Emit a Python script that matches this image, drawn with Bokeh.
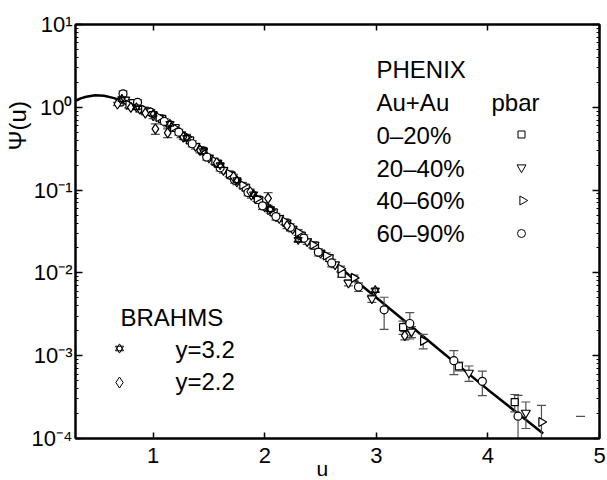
import numpy as np
from bokeh.plotting import figure
from bokeh.models import (Range1d, LogAxis, LinearAxis, FixedTicker, Label, Title,
                          CustomJSTickFormatter)
from bokeh.embed import file_html
from bokeh.resources import INLINE

FONT = "Liberation Sans"

# ---------------- data ----------------
# fitted scaling curve
curve_u = [0.305, 0.35, 0.40, 0.48, 0.56, 0.65, 0.75, 0.86, 1.00, 1.10, 1.20, 1.30, 1.40,
           1.50, 1.60, 1.75, 2.00, 2.25, 2.50, 2.83, 3.20, 3.575, 4.00, 4.495]
curve_psi = [1.20, 1.28, 1.34, 1.40, 1.38, 1.29, 1.15, 1.00, 0.813, 0.684, 0.543, 0.422, 0.324,
             0.251, 0.193, 0.129, 0.0646, 0.0343, 0.0182, 0.00776, 0.00302, 0.00115, 3.89e-4, 1.15e-4]

# PHENIX Au+Au pbar 0-20% (squares)
sq_u = [0.70, 0.82, 0.95, 1.08, 1.20, 1.33, 1.45, 1.58, 1.70, 1.83, 1.95, 2.08, 2.20, 2.33,
        2.45, 2.58, 2.69, 3.24, 3.74, 4.24]
sq_psi = [1.148, 1.122, 0.891, 0.724, 0.562, 0.398, 0.295, 0.209, 0.151, 0.107, 0.0759, 0.0537,
          0.0398, 0.0282, 0.0214, 0.0151, 0.00977, 0.00221, 7.46e-4, 2.75e-4]
sq_err = [0.09, 0.09, 0.07, 0.06, 0.045, 0.032, 0.024, 0.017, 0.012, 0.0086, 0.0061, 0.0043,
          0.0032, 0.0023, 0.0018, 0.0013, 0.0009, 0.0004, 0.9e-4, 0.65e-4]

# 20-40% (inverted triangles)
dt_u = [0.75, 0.88, 1.00, 1.13, 1.25, 1.38, 1.50, 1.63, 1.75, 1.88, 2.00, 2.13, 2.25, 2.38,
        2.50, 2.63, 2.75, 2.96, 3.315, 3.83, 4.34]
dt_psi = [1.230, 0.955, 0.794, 0.631, 0.468, 0.339, 0.245, 0.174, 0.126, 0.0871, 0.0631, 0.0457,
          0.0339, 0.0240, 0.0174, 0.0126, 0.00759, 0.00490, 0.00195, 6.21e-4, 2.04e-4]
dt_err = [0.10, 0.08, 0.065, 0.05, 0.037, 0.027, 0.02, 0.014, 0.01, 0.007, 0.005, 0.0037,
          0.0027, 0.0019, 0.0014, 0.001, 0.0006, 0.0005, 0.0003, 1.3e-4, 0.72e-4]

# 40-60% (right-pointing triangles)
rt_u = [0.78, 0.92, 1.05, 1.18, 1.30, 1.43, 1.55, 1.68, 1.80, 1.93, 2.05, 2.18, 2.30, 2.43,
        2.55, 2.68, 2.80, 3.42, 4.48]
rt_psi = [1.072, 0.933, 0.759, 0.575, 0.437, 0.309, 0.224, 0.158, 0.115, 0.0794, 0.0575, 0.0417,
          0.0309, 0.0219, 0.0162, 0.0112, 0.00871, 0.00151, 1.585e-4]
rt_err = [0.09, 0.075, 0.06, 0.045, 0.035, 0.025, 0.018, 0.013, 0.009, 0.0065, 0.0047, 0.0034,
          0.0025, 0.0018, 0.0013, 0.0009, 0.0007, 0.0003, 0.93e-4]

# 60-90% (circles)
ci_u = [0.73, 0.86, 0.98, 1.10, 1.23, 1.35, 1.48, 1.60, 1.73, 1.85, 1.98, 2.10, 2.23, 2.35,
        2.48, 2.60, 2.84, 3.07, 3.30, 3.695, 3.95, 4.27]
ci_psi = [1.455, 1.148, 0.871, 0.676, 0.501, 0.363, 0.251, 0.186, 0.132, 0.0933, 0.0646, 0.0479,
          0.0355, 0.0263, 0.0178, 0.0132, 0.00676, 0.00358, 0.00245, 8.71e-4, 4.90e-4, 1.86e-4]
ci_err = [0.12, 0.09, 0.07, 0.055, 0.04, 0.03, 0.021, 0.016, 0.011, 0.008, 0.006, 0.0045,
          0.0035, 0.0026, 0.0018, 0.0014, 0.0008, 0.0015, 0.00086, 0.00028, 0.00016, 0.000145]

# BRAHMS y=3.2 (six-pointed stars)
st_u = [0.72, 0.85, 1.00, 1.15, 1.30, 1.45, 1.60, 1.75, 1.90, 2.05, 2.30, 2.99]
st_psi = [1.259, 1.000, 0.832, 0.631, 0.427, 0.295, 0.200, 0.132, 0.0891, 0.0589, 0.0251, 0.00617]
st_err = [0.06, 0.05, 0.04, 0.03, 0.02, 0.015, 0.01, 0.007, 0.005, 0.003, 0.0012, 0.0003]

# BRAHMS y=2.2 (diamonds)
di_u = [0.68, 0.80, 0.93, 1.02, 1.13, 1.27, 1.42, 1.57, 1.72, 1.87, 2.03, 2.20, 3.255]
di_psi = [1.096, 1.000, 0.851, 0.550, 0.490, 0.437, 0.302, 0.214, 0.145, 0.0955, 0.0794, 0.0372,
          0.00175]
di_err = [0.05, 0.05, 0.04, 0.08, 0.06, 0.03, 0.02, 0.015, 0.01, 0.007, 0.014, 0.003, 0.0002]

# lone error-bar cap at the right edge
cap_u = [4.83]
cap_psi = [1.85e-4]

x_ticks = [1, 2, 3, 4, 5]
y_ticks = [1e-4, 1e-3, 1e-2, 1e-1, 1e0, 1e1]
y_tick_labels = ["10\u207b\u2074", "10\u207b\u00b3", "10\u207b\u00b2", "10\u207b\u00b9",
                 "10\u2070", "10\u00b9"]

phenix_title = "PHENIX"
phenix_sub = ["Au+Au", "pbar"]
phenix_labels = ["0\u201320%", "20\u201340%", "40\u201360%", "60\u201390%"]
brahms_title = "BRAHMS"
brahms_labels = ["y=3.2", "y=2.2"]
x_title = "u"
y_title = "\u03a8(u)"

# ---------------- layout helpers ----------------
X0, X1 = 0.304, 5.0
Y0, Y1 = 1e-4, 1e1
FL, FR, FT, FB = 75, 599, 24, 438


def ux(px):
    return X0 + (px - FL) * (X1 - X0) / (FR - FL)


def uy(py):
    return 10 ** (np.log10(Y1) - (py - FT) * (np.log10(Y1) - np.log10(Y0)) / (FB - FT))


p = figure(width=607, height=480, x_range=Range1d(X0, X1), y_range=Range1d(Y0, Y1),
           y_axis_type="log", output_backend="svg", toolbar_location=None,
           min_border_left=FL, min_border_right=607 - FR, min_border_top=FT,
           min_border_bottom=480 - FB)
p.xgrid.visible = False
p.ygrid.visible = False
p.outline_line_color = "black"
p.outline_line_width = 2
p.background_fill_color = "white"
p.border_fill_color = "white"

blank = CustomJSTickFormatter(code="return ''")
y_minor = [m * t for t in y_ticks[:-1] for m in range(2, 10)]

xt = FixedTicker(ticks=x_ticks, minor_ticks=[])
yt = FixedTicker(ticks=y_ticks, minor_ticks=y_minor)

ax = p.xaxis[0]
ax.ticker = xt
ax.major_label_text_font = FONT
ax.major_label_text_font_size = "22px"
ax.major_label_text_color = "black"
ax.major_label_standoff = 9
ax.major_tick_in = 6
ax.major_tick_out = 0
ax.minor_tick_in = 0
ax.minor_tick_out = 0
ax.axis_line_width = 2
ax.major_tick_line_width = 1.5

ay = p.yaxis[0]
ay.ticker = yt
ay.major_label_overrides = {t: s for t, s in zip(y_ticks, y_tick_labels)}
ay.major_label_text_font = FONT
ay.major_label_text_font_size = "22px"
ay.major_label_text_color = "black"
ay.major_label_standoff = 3
ay.major_tick_in = 7
ay.major_tick_out = 0
ay.minor_tick_in = 3
ay.minor_tick_out = 0
ay.axis_line_width = 2
ay.major_tick_line_width = 1.5

top = LinearAxis(ticker=xt, formatter=blank, major_tick_in=6, major_tick_out=0,
                 minor_tick_in=0, minor_tick_out=0, axis_line_width=2, major_tick_line_width=1.5)
p.add_layout(top, "above")
right = LogAxis(ticker=yt, formatter=blank, major_tick_in=7, major_tick_out=0,
                minor_tick_in=3, minor_tick_out=0, axis_line_width=2, major_tick_line_width=1.5)
p.add_layout(right, "right")

# axis titles as panel titles (outside the frame)
p.add_layout(Title(text=y_title, align="left", offset=288, standoff=-4, text_font=FONT,
                   text_font_size="24px", text_font_style="normal", text_color="black"), "left")
p.add_layout(Title(text=x_title, align="left", offset=241, standoff=-22, text_font=FONT,
                   text_font_size="21px", text_font_style="normal", text_color="black"), "below")

# ---------------- curve ----------------
p.line(curve_u, curve_psi, line_color="black", line_width=2.5)

# ---------------- error bars ----------------
ERR_COLOR = "#505050"
series = [
    (sq_u, sq_psi, sq_err),
    (dt_u, dt_psi, dt_err),
    (rt_u, rt_psi, rt_err),
    (ci_u, ci_psi, ci_err),
    (st_u, st_psi, st_err),
    (di_u, di_psi, di_err),
]
for u, y, e in series:
    u = np.array(u)
    y = np.array(y)
    e = np.array(e)
    lo = y - e
    hi = y + e
    p.segment(u, lo, u, hi, line_color=ERR_COLOR, line_width=1.2)
    p.scatter(np.concatenate([u, u]), np.concatenate([lo, hi]), marker="dash", size=9,
              line_color=ERR_COLOR, line_width=1.2)

p.scatter(cap_u, cap_psi, marker="dash", size=9, line_color=ERR_COLOR, line_width=1.2)

# ---------------- markers ----------------
MK = dict(line_color="black", fill_color="white", line_width=1.2)
p.scatter(sq_u, sq_psi, marker="square", size=7, **MK)
p.scatter(dt_u, dt_psi, marker="inverted_triangle", size=9, **MK)
p.scatter(rt_u, rt_psi, marker="triangle", angle=-np.pi / 2, size=9, **MK)
p.scatter(ci_u, ci_psi, marker="circle", size=8, **MK)
p.scatter(di_u, di_psi, marker="diamond", size=10, **MK)
p.scatter(st_u, st_psi, marker="triangle", size=8, line_color="black", fill_alpha=0, line_width=1.1)
p.scatter(st_u, st_psi, marker="inverted_triangle", size=8, line_color="black", fill_alpha=0,
          line_width=1.1)

# ---------------- legend (drawn as text + markers) ----------------
TXT = dict(text_font=FONT, text_font_size="24px", text_color="black", text_baseline="middle")
p.add_layout(Label(x=ux(376), y=uy(69), text=phenix_title, text_align="left", **TXT))
p.add_layout(Label(x=ux(376), y=uy(102), text=phenix_sub[0], text_align="left", **TXT))
p.add_layout(Label(x=ux(491), y=uy(102), text=phenix_sub[1], text_align="left", **TXT))
for lab, py in zip(phenix_labels, [135, 168, 200, 233]):
    p.add_layout(Label(x=ux(376), y=uy(py), text=lab, text_align="left", **TXT))

MKL = dict(line_color="black", fill_color="white", line_width=1)
lx = ux(521)
p.scatter([lx], [uy(134)], marker="square", size=7, **MKL)
p.scatter([lx], [uy(167)], marker="inverted_triangle", size=9, **MKL)
p.scatter([ux(522)], [uy(200)], marker="triangle", angle=-np.pi / 2, size=9, **MKL)
p.scatter([lx], [uy(233)], marker="circle", size=8, **MKL)

p.add_layout(Label(x=ux(120), y=uy(317), text=brahms_title, text_align="left", **TXT))
p.add_layout(Label(x=ux(175), y=uy(349), text=brahms_labels[0], text_align="left", **TXT))
p.add_layout(Label(x=ux(175), y=uy(381), text=brahms_labels[1], text_align="left", **TXT))
bx = ux(119)
p.scatter([bx], [uy(348)], marker="triangle", size=8, line_color="black", fill_alpha=0, line_width=1)
p.scatter([bx], [uy(348)], marker="inverted_triangle", size=8, line_color="black", fill_alpha=0,
          line_width=1)
p.scatter([bx], [uy(382)], marker="diamond", size=11, **MKL)

open("out.html", "w").write(file_html(p, INLINE))
